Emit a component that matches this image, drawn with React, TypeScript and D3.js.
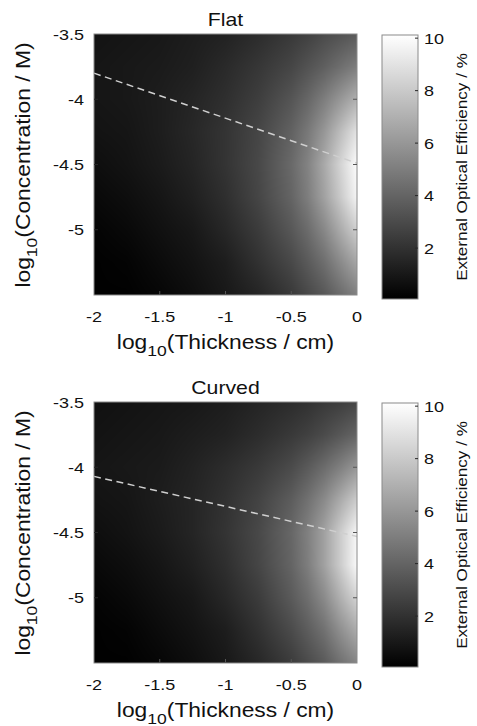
import React, { useMemo } from "react";
import * as d3 from "d3";

// log10 thickness (cm) and log10 concentration (M) sample grid
const thickness = [-2, -1.75, -1.5, -1.25, -1, -0.75, -0.5, -0.375, -0.25, -0.125, 0];
const concentration = [-3.5, -3.75, -4, -4.25, -4.5, -4.75, -5, -5.25, -5.5];

// external optical efficiency (%), rows = concentration
const flatEff = [
  [0.8, 0.9, 1.0, 1.2, 1.4, 1.8, 2.3, 2.6, 3.0, 3.3, 3.6],
  [0.9, 1.0, 1.1, 1.3, 1.7, 2.2, 2.8, 3.3, 3.8, 4.4, 5.0],
  [0.9, 1.0, 1.2, 1.5, 1.9, 2.5, 3.4, 4.1, 5.0, 6.0, 7.0],
  [0.8, 0.9, 1.2, 1.6, 2.1, 2.8, 3.9, 4.8, 6.0, 7.5, 9.0],
  [0.6, 0.8, 1.1, 1.5, 2.1, 2.9, 4.2, 5.2, 6.7, 8.4, 10.0],
  [0.4, 0.6, 0.9, 1.3, 1.9, 2.8, 4.0, 5.0, 6.4, 8.0, 9.7],
  [0.2, 0.4, 0.7, 1.0, 1.6, 2.4, 3.5, 4.3, 5.4, 6.8, 8.2],
  [0.1, 0.2, 0.5, 0.8, 1.2, 2.0, 2.9, 3.6, 4.4, 5.5, 6.6],
  [0.1, 0.1, 0.3, 0.6, 1.0, 1.5, 2.3, 2.9, 3.5, 4.3, 5.1],
];

const curvedEff = [
  [0.7, 0.8, 0.9, 1.0, 1.2, 1.5, 1.8, 2.0, 2.3, 2.5, 2.8],
  [0.8, 0.9, 1.0, 1.2, 1.4, 1.8, 2.3, 2.6, 3.0, 3.5, 4.0],
  [0.9, 1.0, 1.1, 1.4, 1.8, 2.3, 3.0, 3.6, 4.3, 5.1, 6.0],
  [0.8, 0.9, 1.2, 1.5, 2.0, 2.7, 3.7, 4.5, 5.5, 6.8, 8.1],
  [0.6, 0.8, 1.1, 1.5, 2.1, 2.9, 4.1, 5.1, 6.4, 8.1, 9.8],
  [0.4, 0.6, 0.9, 1.3, 1.9, 2.8, 4.0, 5.0, 6.4, 8.1, 9.9],
  [0.2, 0.4, 0.7, 1.0, 1.6, 2.4, 3.6, 4.4, 5.5, 7.0, 8.4],
  [0.1, 0.2, 0.5, 0.8, 1.2, 2.0, 3.0, 3.7, 4.5, 5.7, 6.8],
  [0.1, 0.1, 0.3, 0.6, 1.0, 1.6, 2.4, 3.0, 3.6, 4.5, 5.3],
];

// dashed optimum lines [thickness, concentration]
const flatOptimum: [number, number][] = [[-2, -3.8], [0, -4.49]];
const curvedOptimum: [number, number][] = [[-2, -4.07], [0, -4.53]];

const xTicks = [-2, -1.5, -1, -0.5, 0];
const yTicks = [-3.5, -4, -4.5, -5];
const cbTicks = [2, 4, 6, 8, 10];
const cLimits = [0.06, 10.12];

const panels = [
  { title: "Flat", values: flatEff, optimum: flatOptimum, top: 34 },
  { title: "Curved", values: curvedEff, optimum: curvedOptimum, top: 402 },
];

const left = 94, right = 357, ph = 261;
const cbLeft = 382, cbRight = 418;
const font = "'Liberation Sans', Arial, Helvetica, sans-serif";
const ink = "#111";

function heatImage(values: number[][], w: number, h: number) {
  const cv = document.createElement("canvas");
  cv.width = w; cv.height = h;
  const ctx = cv.getContext("2d")!;
  const img = ctx.createImageData(w, h);
  const xs = d3.scaleLinear().domain([0, w]).range([-2, 0]);
  const ys = d3.scaleLinear().domain([0, h]).range([-3.5, -5.5]);
  const gray = d3.scaleLinear().domain(cLimits).range([0, 255]).clamp(true);
  for (let j = 0; j < h; j++) {
    const cy = ys(j + 0.5);
    let r = 0;
    while (r < concentration.length - 2 && concentration[r + 1] > cy) r++;
    const ty = (concentration[r] - cy) / (concentration[r] - concentration[r + 1]);
    for (let i = 0; i < w; i++) {
      const cx = xs(i + 0.5);
      let c = 0;
      while (c < thickness.length - 2 && thickness[c + 1] < cx) c++;
      const tx = (cx - thickness[c]) / (thickness[c + 1] - thickness[c]);
      const v = (1 - ty) * ((1 - tx) * values[r][c] + tx * values[r][c + 1])
        + ty * ((1 - tx) * values[r + 1][c] + tx * values[r + 1][c + 1]);
      const g = Math.round(gray(v));
      const k = (j * w + i) * 4;
      img.data[k] = g; img.data[k + 1] = g; img.data[k + 2] = g; img.data[k + 3] = 255;
    }
  }
  ctx.putImageData(img, 0, 0);
  return cv.toDataURL();
}

function Txt({ x, y, rotate = 0, sx = 1, size, anchor = "middle", children }: any) {
  return (
    <g transform={`translate(${x},${y}) rotate(${rotate}) scale(${sx},1)`}>
      <text textAnchor={anchor} fontSize={size} fontFamily={font} fill={ink}>{children}</text>
    </g>
  );
}

function Panel({ p, idx }: any) {
  const top = p.top, bottom = top + ph;
  const x = d3.scaleLinear().domain([-2, 0]).range([left, right]);
  const y = d3.scaleLinear().domain([-3.5, -5.5]).range([top, bottom]);
  const cbTop = top + 1, cbBottom = bottom + 4;
  const cb = d3.scaleLinear().domain(cLimits).range([cbBottom, cbTop]);
  const href = useMemo(() => heatImage(p.values, right - left, ph), [p]);
  const line = d3.line<[number, number]>().x(d => x(d[0])).y(d => y(d[1]));
  const gid = `cbgrad${idx}`;
  return (
    <g>
      <image href={href} x={left} y={top} width={right - left} height={ph} preserveAspectRatio="none" />
      <path d={line(p.optimum) || ""} stroke="#cfcfcf" strokeWidth={1.5} strokeDasharray="7,4.5" fill="none" />
      <rect x={left} y={top} width={right - left} height={ph} fill="none" stroke="#8a8a8a" strokeWidth={1} />
      {yTicks.map(t => (
        <g key={"y" + t}>
          {t !== -3.5 && <line x1={left} x2={left + 4} y1={y(t)} y2={y(t)} stroke="#262626" />}
          {t !== -3.5 && <line x1={right - 4} x2={right} y1={y(t)} y2={y(t)} stroke="#555" />}
          <Txt x={84} y={y(t) + 5.5} size={15} sx={1.2} anchor="end">{t}</Txt>
        </g>
      ))}
      {xTicks.map(t => (
        <g key={"x" + t}>
          {t !== -2 && t !== 0 && <line x1={x(t)} x2={x(t)} y1={bottom} y2={bottom - 4} stroke="#555" />}
          <Txt x={x(t)} y={bottom + 27} size={15} sx={1.2}>{t}</Txt>
        </g>
      ))}
      <Txt x={(left + right) / 2} y={top - 8.5} size={18} sx={1.18}>{p.title}</Txt>
      <g transform={`translate(${(left + right) / 2},${bottom + 54}) scale(1.17,1)`}>
        <text textAnchor="middle" fontSize={19.5} fontFamily={font} fill={ink}>
          <tspan>log</tspan><tspan dy={7} fontSize={15}>10</tspan><tspan dy={-7}>(Thickness / cm)</tspan>
        </text>
      </g>
      <g transform={`translate(30,${(top + bottom) / 2 + 0.5}) rotate(-90) scale(1.17,1)`}>
        <text textAnchor="middle" fontSize={19.5} fontFamily={font} fill={ink}>
          <tspan>log</tspan><tspan dy={7} fontSize={15}>10</tspan><tspan dy={-7}>(Concentration / M)</tspan>
        </text>
      </g>
      <defs>
        <linearGradient id={gid} x1="0" y1="1" x2="0" y2="0">
          <stop offset="0" stopColor="#000" />
          <stop offset="1" stopColor="#fff" />
        </linearGradient>
      </defs>
      <rect x={cbLeft} y={cbTop} width={cbRight - cbLeft} height={cbBottom - cbTop} fill={`url(#${gid})`} stroke="#8a8a8a" strokeWidth={1} />
      {cbTicks.map(t => (
        <g key={"c" + t}>
          <line x1={cbRight - 3} x2={cbRight} y1={cb(t)} y2={cb(t)} stroke="#262626" />
          <Txt x={424} y={cb(t) + 5.5} size={15} sx={1.2} anchor="start">{t}</Txt>
        </g>
      ))}
      <Txt x={467} y={(cbTop + cbBottom) / 2} rotate={-90} size={15} sx={1.14}>External Optical Efficiency / %</Txt>
    </g>
  );
}

export default function App() {
  return (
    <svg width={477} height={726} style={{ position: "absolute", left: 0, top: 0, background: "#fff" }}>
      {panels.map((p, i) => <Panel key={p.title} p={p} idx={i} />)}
    </svg>
  );
}
